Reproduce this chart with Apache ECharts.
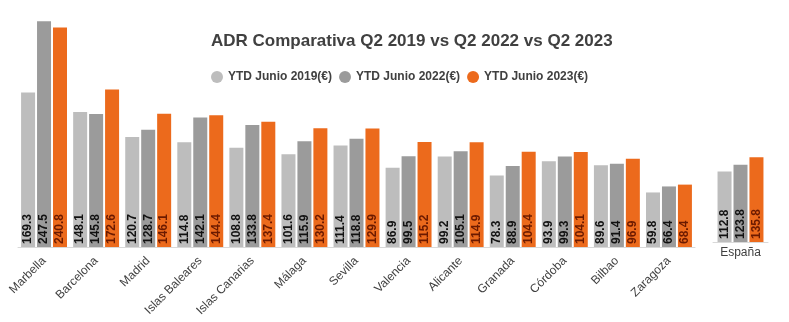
<!DOCTYPE html>
<html><head><meta charset="utf-8">
<script src="https://cdn.jsdelivr.net/npm/echarts@6/dist/echarts.min.js"></script>
<style>html,body{margin:0;padding:0;background:#fff}#c{width:789px;height:322px}</style>
</head><body><div id="c"></div>
<script>
var cities = ['Marbella','Barcelona','Madrid','Islas Baleares','Islas Canarias','Málaga','Sevilla','Valencia','Alicante','Granada','Córdoba','Bilbao','Zaragoza'];
var y2019 = [169.3,148.1,120.7,114.8,108.8,101.6,111.4,86.9,99.2,78.3,93.9,89.6,59.8];
var y2022 = [247.5,145.8,128.7,142.1,133.8,115.9,118.8,99.5,105.1,88.9,99.3,91.4,66.4];
var y2023 = [240.8,172.6,146.1,144.4,137.4,130.2,129.9,115.2,114.9,104.4,104.1,96.9,68.4];
var spainCat = ['España'];
var spain2019 = [112.8];
var spain2022 = [123.8];
var spain2023 = [135.8];
var names = ['YTD Junio 2019(€)','YTD Junio 2022(€)','YTD Junio 2023(€)'];
var colors = ['#bdbdbd','#9b9b9b','#ec6a1c'];
var labelColors = ['#111','#111','#6b1a00'];
var font = 'Liberation Sans, Arial, sans-serif';

function mk(i, data, gi) {
  return {
    name: names[i], type: 'bar', data: data,
    xAxisIndex: gi, yAxisIndex: gi,
    barWidth: 14, barGap: '14%',
    itemStyle: {color: colors[i]},
    label: {show: true, position: 'insideBottom', rotate: 90, align: 'left', verticalAlign: 'middle',
      distance: 3, fontFamily: font, fontSize: 12, fontWeight: 'bold', color: labelColors[i],
      formatter: function(p){ return p.value.toFixed(1); }}
  };
}
var chart = echarts.init(document.getElementById('c'));
chart.setOption({
  animation: false,
  title: {text: 'ADR Comparativa Q2 2019 vs Q2 2022 vs Q2 2023', left: 206, top: 28,
    textStyle: {fontFamily: font, fontSize: 17, fontWeight: 'bold', color: '#404040'}},
  legend: {data: names, left: 206, top: 66, icon: 'circle', itemWidth: 12, itemHeight: 12, itemGap: 7,
    textStyle: {fontFamily: font, fontSize: 12, fontWeight: 'bold', color: '#404040'}},
  grid: [
    {left: 18, width: 677, top: 19, bottom: 75},
    {left: 713, width: 55, top: 86, bottom: 80}
  ],
  xAxis: [
    {type: 'category', data: cities, gridIndex: 0,
      axisLine: {lineStyle: {color: '#d9d9d9'}}, axisTick: {show: false},
      axisLabel: {rotate: 45, interval: 0, margin: 12, fontFamily: font, fontSize: 12, color: '#404040'}},
    {type: 'category', data: spainCat, gridIndex: 1,
      axisLine: {lineStyle: {color: '#d9d9d9'}}, axisTick: {show: false},
      axisLabel: {margin: 5, fontFamily: font, fontSize: 12, color: '#404040'}}
  ],
  yAxis: [
    {type: 'value', gridIndex: 0, min: 0, max: 250, show: false, splitLine: {show: false}},
    {type: 'value', gridIndex: 1, min: 0, max: 250, show: false, splitLine: {show: false}}
  ],
  series: [
    mk(0, y2019, 0), mk(1, y2022, 0), mk(2, y2023, 0),
    mk(0, spain2019, 1), mk(1, spain2022, 1), mk(2, spain2023, 1)
  ]
});
</script></body></html>
